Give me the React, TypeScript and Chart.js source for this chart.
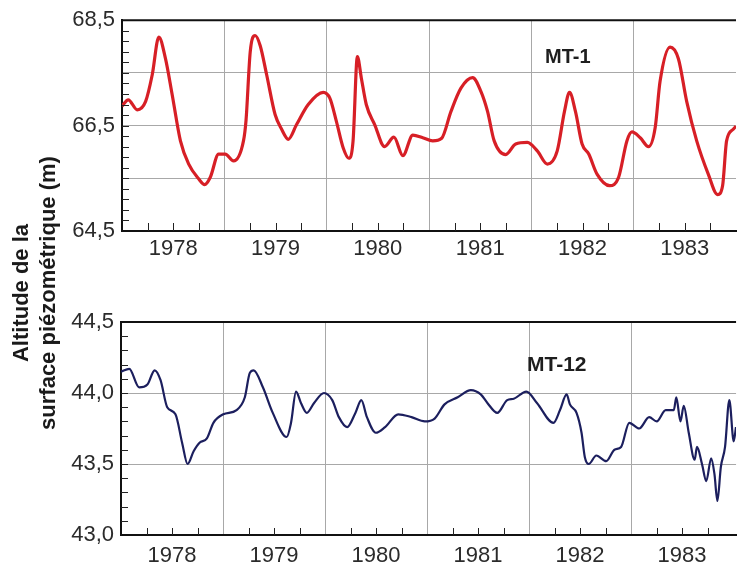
import { useEffect, useRef } from 'react';
import { Chart, registerables } from 'chart.js';

Chart.register(...registerables);

const FONT = '"Liberation Sans", Arial, Helvetica, sans-serif';
const GRID = '#a8a8a8';
const TICK_COLOR = '#2b2b2b';

const yearLabels = ['1978', '1979', '1980', '1981', '1982', '1983'];

const mt1YTicks = [64.5, 65.5, 66.5, 67.5, 68.5];
const mt1YLabels = ['64,5', '', '66,5', '', '68,5'];
const mt12YTicks = [43.0, 43.5, 44.0, 44.5];
const mt12YLabels = ['43,0', '43,5', '44,0', '44,5'];

const mt1Times = [
  1978.0, 1978.061, 1978.149, 1978.231, 1978.295, 1978.36, 1978.425, 1978.49, 1978.571, 1978.652,
  1978.749, 1978.808, 1978.863, 1978.944, 1979.009, 1979.09, 1979.187, 1979.212, 1979.253, 1979.301,
  1979.35, 1979.414, 1979.496, 1979.56, 1979.625, 1979.706, 1979.82, 1979.966, 1980.031, 1980.095,
  1980.161, 1980.216, 1980.258, 1980.3, 1980.339, 1980.387, 1980.469, 1980.566, 1980.657, 1980.745,
  1980.842, 1980.939, 1981.036, 1981.124, 1981.215, 1981.312, 1981.426, 1981.507, 1981.572, 1981.637,
  1981.75, 1981.847, 1981.961, 1982.058, 1982.156, 1982.253, 1982.324, 1982.373, 1982.431, 1982.496,
  1982.561, 1982.642, 1982.766, 1982.853, 1982.934, 1982.983, 1983.064, 1983.145, 1983.21, 1983.258,
  1983.356, 1983.437, 1983.518, 1983.616, 1983.729, 1983.82, 1983.869, 1983.908, 1983.973, 1984.0,
];
const mt1Levels = [
  66.87, 66.99, 66.8, 66.96, 67.46, 68.18, 67.77, 67.09, 66.21, 65.77,
  65.49, 65.38, 65.52, 65.96, 65.96, 65.83, 66.21, 66.6, 67.9, 68.21,
  68.02, 67.46, 66.71, 66.43, 66.24, 66.52, 66.9, 67.13, 67.02, 66.58,
  66.08, 65.88, 66.21, 67.81, 67.4, 66.9, 66.52, 66.1, 66.28, 65.93,
  66.32, 66.27, 66.21, 66.26, 66.77, 67.21, 67.41, 67.15, 66.77, 66.21,
  65.95, 66.15, 66.18, 66.02, 65.77, 66.02, 66.77, 67.13, 66.77, 66.15,
  65.96, 65.58, 65.36, 65.52, 66.21, 66.38, 66.27, 66.1, 66.46, 67.34,
  67.99, 67.77, 66.96, 66.21, 65.58, 65.19, 65.36, 66.21, 66.43, 66.49,
];

const mt12Times = [
  1978.0, 1978.081, 1978.178, 1978.259, 1978.33, 1978.388, 1978.453, 1978.534, 1978.599, 1978.653,
  1978.712, 1978.77, 1978.842, 1978.906, 1979.003, 1979.133, 1979.214, 1979.262, 1979.301, 1979.391,
  1979.488, 1979.624, 1979.667, 1979.716, 1979.764, 1979.822, 1979.893, 1979.99, 1980.071, 1980.136,
  1980.217, 1980.298, 1980.356, 1980.411, 1980.498, 1980.589, 1980.718, 1980.848, 1980.978, 1981.075,
  1981.172, 1981.301, 1981.43, 1981.527, 1981.592, 1981.689, 1981.786, 1981.851, 1981.974, 1982.078,
  1982.24, 1982.304, 1982.369, 1982.401, 1982.466, 1982.515, 1982.547, 1982.586, 1982.66, 1982.757,
  1982.838, 1982.903, 1982.983, 1983.08, 1983.178, 1983.252, 1983.34, 1983.42, 1983.444, 1983.485,
  1983.517, 1983.566, 1983.624, 1983.647, 1983.696, 1983.738, 1983.786, 1983.818, 1983.847, 1983.881,
  1983.922, 1983.964, 1984.007, 1984.029,
];
const mt12Levels = [
  44.15, 44.17, 44.04, 44.06, 44.16, 44.09, 43.9, 43.85, 43.65, 43.5,
  43.59, 43.65, 43.68, 43.79, 43.85, 43.88, 43.97, 44.14, 44.16, 44.04,
  43.86, 43.69, 43.79, 44.01, 43.93, 43.86, 43.93, 44.0, 43.95, 43.83,
  43.76, 43.86, 43.95, 43.83, 43.72, 43.76, 43.85, 43.83, 43.8, 43.82,
  43.92, 43.97, 44.02, 43.99, 43.93, 43.86, 43.95, 43.96, 44.01, 43.93,
  43.79, 43.88, 43.99, 43.92, 43.86, 43.72, 43.55, 43.5, 43.56, 43.52,
  43.6, 43.62, 43.79, 43.75, 43.83, 43.8, 43.88, 43.88, 43.97, 43.8,
  43.91, 43.72, 43.53, 43.62, 43.5, 43.38, 43.54, 43.43, 43.24, 43.48,
  43.62, 43.95, 43.66, 43.76,
];

function xTickValues(): number[] {
  const out: number[] = [];
  for (const l of yearLabels) {
    const b = Number(l);
    out.push(b, b + 0.25, b + 0.5, b + 0.75);
  }
  out.push(Number(yearLabels[yearLabels.length - 1]) + 1);
  return out;
}

const panelDecor = {
  id: 'panelDecor',
  afterDatasetsDraw(chart: any, _args: any, o: any) {
    const { ctx, chartArea: a, scales } = chart;
    const xs = scales.x;
    const ys = scales.y;
    ctx.save();
    ctx.strokeStyle = '#222';
    ctx.lineWidth = 1;
    ctx.beginPath();
    const n = Math.round((o.yMax - o.yMin) / o.minorStep);
    for (let i = 1; i < n; i++) {
      const py = Math.round(ys.getPixelForValue(o.yMin + i * o.minorStep)) + 0.5;
      ctx.moveTo(a.left, py);
      ctx.lineTo(a.left + o.yTickLen, py);
    }
    for (const l of yearLabels) {
      const b = Number(l);
      for (const q of [0.25, 0.5, 0.75]) {
        const px = Math.round(xs.getPixelForValue(b + q)) + 0.5;
        ctx.moveTo(px, a.bottom);
        ctx.lineTo(px, a.bottom - o.xTickLen);
      }
    }
    ctx.stroke();
    ctx.strokeStyle = '#111';
    ctx.lineWidth = 2;
    ctx.beginPath();
    ctx.moveTo(a.left - 1, a.top);
    ctx.lineTo(a.right, a.top);
    ctx.stroke();
    ctx.fillStyle = '#1e1e1e';
    ctx.font = `bold ${o.labelSize}px ${FONT}`;
    ctx.textAlign = 'left';
    ctx.textBaseline = 'alphabetic';
    ctx.fillText(o.label, o.labelX, o.labelY);
    ctx.restore();
  },
};

function panelConfig(p: any): any {
  const data = p.times.map((t: number, i: number) => ({ x: t, y: p.levels[i] }));
  const xt = xTickValues();
  return {
    type: 'line',
    data: {
      datasets: [
        {
          data,
          borderColor: p.color,
          borderWidth: p.width,
          pointRadius: 0,
          cubicInterpolationMode: 'monotone',
          fill: false,
        },
      ],
    },
    plugins: [panelDecor],
    options: {
      animation: false,
      responsive: false,
      devicePixelRatio: 1,
      layout: { padding: { top: p.padTop, left: 0, right: 0, bottom: 0 } },
      plugins: {
        legend: { display: false },
        tooltip: { enabled: false },
        title: { display: false },
        panelDecor: {
          yMin: p.yMin,
          yMax: p.yMax,
          minorStep: p.minorStep,
          yTickLen: p.yTickLen,
          xTickLen: p.xTickLen,
          label: p.label,
          labelX: p.labelX,
          labelY: p.labelY,
          labelSize: p.labelSize,
        },
      },
      scales: {
        x: {
          type: 'linear',
          min: 1978,
          max: p.xMax,
          afterBuildTicks: (s: any) => {
            s.ticks = xt.map((v) => ({ value: v }));
          },
          afterFit: (s: any) => {
            s.height = p.xHeight;
          },
          grid: {
            drawTicks: false,
            lineWidth: 1,
            color: (c: any) => {
              const v = c.tick ? c.tick.value : NaN;
              return Math.abs(v - Math.round(v)) < 1e-6 && v > 1978.5 && v < 1983.5 ? GRID : 'rgba(0,0,0,0)';
            },
          },
          border: { display: true, color: '#111', width: 2 },
          ticks: {
            autoSkip: false,
            maxRotation: 0,
            minRotation: 0,
            padding: p.xLabelPad,
            color: TICK_COLOR,
            font: { family: FONT, size: 22 },
            callback: (v: any) => {
              const num = Number(v);
              const base = Math.floor(num + 1e-9);
              if (Math.abs(num - base - 0.5) < 1e-6) {
                const f = yearLabels.find((l) => Number(l) === base);
                return f || '';
              }
              return '';
            },
          },
        },
        y: {
          type: 'linear',
          min: p.yMin,
          max: p.yMax,
          afterBuildTicks: (s: any) => {
            s.ticks = p.yTicks.map((v: number) => ({ value: v }));
          },
          afterFit: (s: any) => {
            s.width = p.yWidth;
          },
          grid: {
            drawTicks: false,
            lineWidth: 1,
            color: (c: any) =>
              c.index === 0 || c.index === p.yTicks.length - 1 ? 'rgba(0,0,0,0)' : GRID,
          },
          border: { display: true, color: '#111', width: 2 },
          ticks: {
            padding: 7,
            color: TICK_COLOR,
            font: { family: FONT, size: 22 },
            callback: (v: any) => {
              const idx = p.yTicks.findIndex((t: number) => Math.abs(t - Number(v)) < 1e-6);
              return idx >= 0 ? p.yLabels[idx] : '';
            },
          },
        },
      },
    },
  };
}

export default function App() {
  const topRef = useRef<HTMLCanvasElement>(null);
  const botRef = useRef<HTMLCanvasElement>(null);

  useEffect(() => {
    const c1 = new Chart(
      topRef.current as HTMLCanvasElement,
      panelConfig({
        times: mt1Times,
        levels: mt1Levels,
        color: '#d71f26',
        width: 3.2,
        yMin: 64.5,
        yMax: 68.5,
        yTicks: mt1YTicks,
        yLabels: mt1YLabels,
        xMax: 1984,
        yWidth: 122,
        xHeight: 39,
        padTop: 18,
        minorStep: 0.2,
        yTickLen: 7,
        xTickLen: 8,
        xLabelPad: 5,
        label: 'MT-1',
        labelX: 545,
        labelY: 63,
        labelSize: 20,
      })
    );
    const c2 = new Chart(
      botRef.current as HTMLCanvasElement,
      panelConfig({
        times: mt12Times,
        levels: mt12Levels,
        color: '#1c1f5e',
        width: 2.2,
        yMin: 43.0,
        yMax: 44.5,
        yTicks: mt12YTicks,
        yLabels: mt12YLabels,
        xMax: 1984.03,
        yWidth: 121,
        xHeight: 28,
        padTop: 42,
        minorStep: 0.1,
        yTickLen: 7,
        xTickLen: 7,
        xLabelPad: 8,
        label: 'MT-12',
        labelX: 527,
        labelY: 91,
        labelSize: 21,
      })
    );
    return () => {
      c1.destroy();
      c2.destroy();
    };
  }, []);

  return (
    <div
      style={{
        position: 'absolute',
        left: 0,
        top: 0,
        width: 741,
        height: 563,
        overflow: 'hidden',
        background: '#fff',
      }}
    >
      <canvas ref={topRef} width={741} height={270} style={{ position: 'absolute', left: 0, top: 0 }} />
      <canvas ref={botRef} width={741} height={283} style={{ position: 'absolute', left: 0, top: 280 }} />
      <div
        style={{
          position: 'absolute',
          left: -126,
          top: 266,
          width: 320,
          height: 54,
          transform: 'rotate(-90deg)',
          font: `bold 22px ${FONT}`,
          lineHeight: '27px',
          textAlign: 'center',
          color: '#1a1a1a',
          whiteSpace: 'nowrap',
        }}
      >
        Altitude de la
        <br />
        surface piézométrique (m)
      </div>
    </div>
  );
}
